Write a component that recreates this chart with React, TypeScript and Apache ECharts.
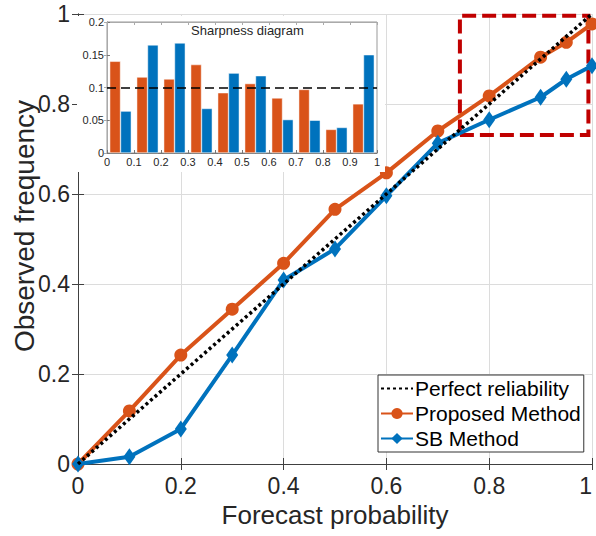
import React, { useEffect, useRef } from "react";
import * as echarts from "echarts";

// Reliability diagram data
const probX = [0, 0.1, 0.2, 0.3, 0.4, 0.5, 0.6, 0.7, 0.8, 0.9, 0.95, 1];
const proposed = [0, 0.118, 0.242, 0.344, 0.446, 0.566, 0.647, 0.74, 0.818, 0.904, 0.937, 0.978];
const sbMethod = [0, 0.016, 0.078, 0.242, 0.409, 0.478, 0.596, 0.713, 0.765, 0.815, 0.855, 0.885];
const perfectX = [0, 1];
const perfectY = [0, 1];

// Sharpness diagram (inset) data
const bins = ["0-0.1", "0.1-0.2", "0.2-0.3", "0.3-0.4", "0.4-0.5", "0.5-0.6", "0.6-0.7", "0.7-0.8", "0.8-0.9", "0.9-1"];
const sharpProposed = [0.14, 0.116, 0.113, 0.135, 0.092, 0.106, 0.084, 0.097, 0.036, 0.075];
const sharpSB = [0.064, 0.165, 0.168, 0.068, 0.122, 0.118, 0.051, 0.05, 0.039, 0.15];
const sharpRef = 0.1;

// Zoom box (data coords)
const zoomBox = [[0.743, 0.731], [0.993, 0.996]];

const FONT = "'Liberation Sans', Arial, Helvetica, sans-serif";
const TXT = "#262626";
const ORANGE = "#D95319";
const BLUE = "#0072BD";

export default function App() {
  const ref = useRef<HTMLDivElement>(null);
  useEffect(() => {
    document.body.style.margin = "0";
    const chart = echarts.init(ref.current!, null, { renderer: "svg" });
    const pair = (xs: number[], ys: number[]) => xs.map((x, i) => [x, ys[i]]);
    const fmt1 = (v: number) => String(Math.round(v * 100) / 100);
    chart.setOption({
      animation: false,
      textStyle: { fontFamily: FONT },
      title: {
        text: "Sharpness diagram",
        left: 186,
        top: 19,
        z: 20,
        textStyle: { fontSize: 13, fontWeight: "normal", color: TXT, fontFamily: FONT },
      },
      legend: {
        data: [
          { name: "Perfect reliability", itemStyle: { opacity: 0 } },
          { name: "Proposed Method" },
          { name: "SB Method" },
        ],
        orient: "vertical",
        left: 378,
        top: 375,
        padding: [3, 3, 3, 2],
        itemGap: 4,
        itemWidth: 32,
        itemHeight: 14,
        backgroundColor: "#fff",
        borderColor: "#333",
        borderWidth: 1,
        borderRadius: 0,
        textStyle: { fontSize: 21, color: "#000", fontFamily: FONT, padding: [0, 0, 0, -3] },
        z: 20,
      },
      graphic: [
        {
          type: "rect",
          z: 10,
          silent: true,
          shape: { x: 77, y: 16, width: 308, height: 156 },
          style: { fill: "#fff" },
        },
        {
          type: "text",
          z: 20,
          silent: true,
          x: 24,
          y: 226,
          rotation: Math.PI / 2,
          style: {
            text: "Observed frequency",
            fontSize: 28,
            fontFamily: FONT,
            fill: TXT,
            align: "center",
            verticalAlign: "middle",
          },
        },
      ],
      grid: [
        { left: 78, right: 4, top: 14, bottom: 72, z: 0, outerBoundsMode: "none", containLabel: false },
        {
          left: 107,
          right: 219,
          top: 22,
          bottom: 383,
          show: true,
          backgroundColor: "#fff",
          borderColor: "#999",
          borderWidth: 1,
          z: 11,
          outerBoundsMode: "none",
          containLabel: false,
        },
      ],
      xAxis: [
        {
          type: "value",
          gridIndex: 0,
          min: 0,
          max: 1,
          interval: 0.2,
          name: "Forecast probability",
          nameLocation: "middle",
          nameGap: 38,
          nameTextStyle: { fontSize: 26, color: TXT, fontFamily: FONT },
          axisLine: { show: true, lineStyle: { color: "#404040", width: 1 } },
          axisTick: { show: true, inside: true, length: 6, lineStyle: { color: "#404040" } },
          axisLabel: {
            fontSize: 23,
            color: TXT,
            margin: 10,
            formatter: fmt1,
            fontFamily: FONT,
            alignMaxLabel: "right",
          },
          splitLine: { show: true, lineStyle: { color: "#dcdcdc", width: 1 } },
        },
        {
          type: "value",
          gridIndex: 0,
          position: "top",
          min: 0,
          max: 1,
          interval: 0.2,
          axisLine: { show: true, lineStyle: { color: "#404040", width: 1 } },
          axisTick: { show: true, inside: true, length: 6, lineStyle: { color: "#404040" } },
          axisLabel: { show: false },
          splitLine: { show: false },
        },
        {
          type: "value",
          gridIndex: 1,
          min: 0,
          max: 1,
          interval: 0.1,
          z: 12,
          axisLine: { show: true, lineStyle: { color: "#777", width: 1 } },
          axisTick: { show: true, inside: true, length: 3, lineStyle: { color: "#777" } },
          axisLabel: { fontSize: 11, color: TXT, margin: 3, formatter: fmt1, fontFamily: FONT },
          splitLine: { show: false },
        },
        {
          type: "category",
          gridIndex: 1,
          data: bins,
          show: false,
          z: 12,
        },
        {
          type: "value",
          gridIndex: 1,
          position: "top",
          min: 0,
          max: 1,
          interval: 0.1,
          z: 12,
          axisLine: { show: true, lineStyle: { color: "#aaa", width: 1 } },
          axisTick: { show: true, inside: true, length: 3, lineStyle: { color: "#aaa" } },
          axisLabel: { show: false },
          splitLine: { show: false },
        },
      ],
      yAxis: [
        {
          type: "value",
          gridIndex: 0,
          min: 0,
          max: 1,
          interval: 0.2,
          axisLine: { show: true, lineStyle: { color: "#404040", width: 1 } },
          axisTick: { show: true, inside: true, length: 6, lineStyle: { color: "#404040" } },
          axisLabel: { fontSize: 23, color: TXT, margin: 8, formatter: fmt1, fontFamily: FONT },
          splitLine: { show: true, lineStyle: { color: "#dcdcdc", width: 1 } },
        },
        {
          type: "value",
          gridIndex: 0,
          position: "right",
          min: 0,
          max: 1,
          interval: 0.2,
          axisLine: { show: true, lineStyle: { color: "#404040", width: 1 } },
          axisTick: { show: true, inside: true, length: 6, lineStyle: { color: "#404040" } },
          axisLabel: { show: false },
          splitLine: { show: false },
        },
        {
          type: "value",
          gridIndex: 1,
          min: 0,
          max: 0.2,
          interval: 0.05,
          z: 12,
          axisLine: { show: true, lineStyle: { color: "#777", width: 1 } },
          axisTick: { show: true, inside: true, length: 3, lineStyle: { color: "#777" } },
          axisLabel: { fontSize: 11, color: TXT, margin: 3, fontFamily: FONT },
          splitLine: { show: false },
        },
        {
          type: "value",
          gridIndex: 1,
          position: "right",
          min: 0,
          max: 0.2,
          interval: 0.05,
          z: 12,
          axisLine: { show: true, lineStyle: { color: "#aaa", width: 1 } },
          axisTick: { show: true, inside: true, length: 3, lineStyle: { color: "#aaa" } },
          axisLabel: { show: false },
          splitLine: { show: false },
        },
      ],
      series: [
        {
          name: "Proposed Method",
          type: "line",
          xAxisIndex: 0,
          yAxisIndex: 0,
          data: pair(probX, proposed),
          symbol: "circle",
          symbolSize: 13,
          showAllSymbol: true,
          lineStyle: { color: ORANGE, width: 4 },
          itemStyle: { color: ORANGE },
          z: 2,
        },
        {
          name: "SB Method",
          type: "line",
          xAxisIndex: 0,
          yAxisIndex: 0,
          data: pair(probX, sbMethod),
          symbol: "diamond",
          symbolSize: [12, 17],
          showAllSymbol: true,
          lineStyle: { color: BLUE, width: 4 },
          itemStyle: { color: BLUE },
          z: 3,
          markArea: {
            silent: true,
            itemStyle: {
              color: "rgba(0,0,0,0)",
              borderColor: "#C00000",
              borderWidth: 4,
              borderType: [14, 6],
            },
            data: [[{ coord: zoomBox[0] }, { coord: zoomBox[1] }]],
          },
        },
        {
          name: "Perfect reliability",
          type: "line",
          xAxisIndex: 0,
          yAxisIndex: 0,
          data: pair(perfectX, perfectY),
          symbol: "none",
          lineStyle: { color: "#000", width: 3.5, type: [3, 3] },
          itemStyle: { color: "#000" },
          z: 4,
        },
        {
          name: "Proposed sharpness",
          type: "bar",
          xAxisIndex: 3,
          yAxisIndex: 2,
          data: sharpProposed,
          barGap: "0%",
          barCategoryGap: "20%",
          itemStyle: { color: ORANGE, borderColor: "#fff", borderWidth: 0.5 },
          z: 13,
          markLine: {
            silent: true,
            symbol: "none",
            label: { show: false },
            lineStyle: { color: "#000", width: 1.5, type: [9, 5] },
            data: [{ yAxis: sharpRef }],
            z: 14,
          },
        },
        {
          name: "SB sharpness",
          type: "bar",
          xAxisIndex: 3,
          yAxisIndex: 2,
          data: sharpSB,
          barGap: "0%",
          barCategoryGap: "20%",
          itemStyle: { color: BLUE, borderColor: "#fff", borderWidth: 0.5 },
          z: 13,
        },
      ],
    });
    return () => chart.dispose();
  }, []);
  return (
    <div
      ref={ref}
      style={{ position: "fixed", left: 0, top: 0, width: 596, height: 536, background: "#fff" }}
    />
  );
}
